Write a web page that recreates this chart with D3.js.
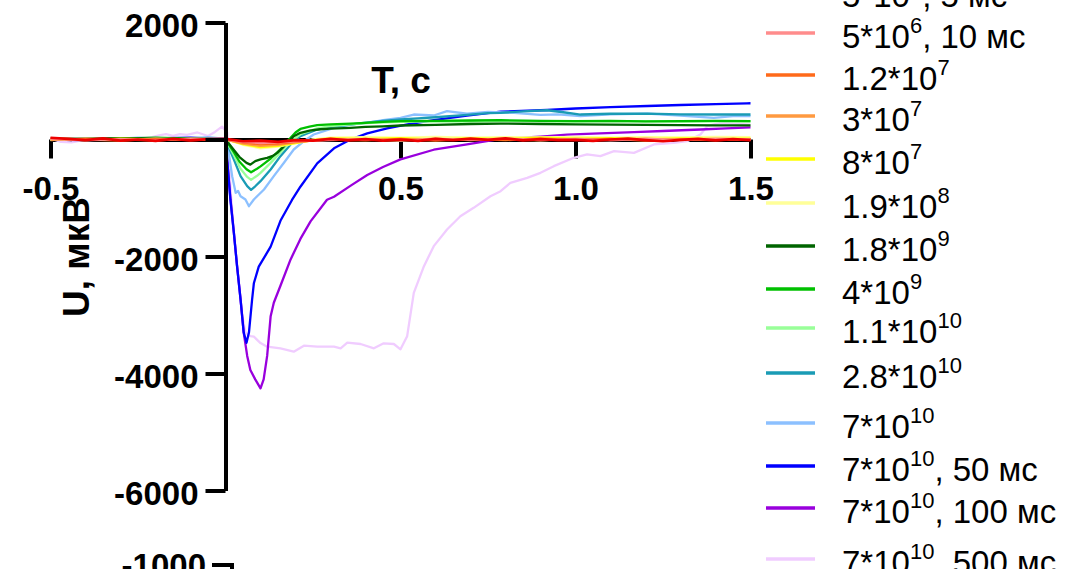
<!DOCTYPE html>
<html>
<head>
<meta charset="utf-8">
<script src="https://cdn.jsdelivr.net/npm/d3@7"></script>
<style>
  body { margin: 0; background: #ffffff; }
  svg { display: block; }
  text { font-family: "Liberation Sans", Arial, sans-serif; }
</style>
</head>
<body>
<svg id="chart" width="1083" height="569"></svg>
<script>
// ---- Data: time T (s) and signal U (µV) per stimulus series ----
const s5e6_5ms = [[-0.5,30],[-0.45,10],[-0.4,-10],[-0.35,20],[-0.3,-20],[-0.25,0],[-0.2,-25],[-0.15,10],[-0.1,-15],[-0.05,5],[0,10],[0.05,-30],[0.1,-20],[0.15,-40],[0.2,-10],[0.25,-20],[0.3,10],[0.35,-15],[0.4,5],[0.45,-20],[0.5,0],[0.55,-25],[0.6,10],[0.65,-10],[0.7,15],[0.75,-5],[0.8,20],[0.85,-15],[0.9,5],[0.95,-10],[1.0,-5],[1.05,-25],[1.1,0],[1.15,15],[1.2,-10],[1.25,-30],[1.3,-5],[1.35,10],[1.4,-15],[1.45,5],[1.5,-10]];
const s5e6_10ms = [[-0.5,10],[-0.4,-15],[-0.3,5],[-0.2,-10],[-0.1,15],[0,0],[0.05,-40],[0.1,-60],[0.15,-50],[0.2,-30],[0.3,-10],[0.4,5],[0.5,-15],[0.6,10],[0.7,-5],[0.8,15],[0.9,-10],[1.0,5],[1.1,-15],[1.2,10],[1.3,-5],[1.4,15],[1.5,0]];
const s1_2e7 = [[-0.5,20],[-0.4,0],[-0.3,-20],[-0.2,10],[-0.1,-10],[0,5],[0.05,-50],[0.1,-80],[0.15,-70],[0.2,-40],[0.25,-20],[0.3,0],[0.4,-15],[0.5,10],[0.6,-20],[0.7,5],[0.8,-10],[0.9,15],[1.0,-5],[1.1,10],[1.2,-20],[1.3,0],[1.4,-10],[1.5,5]];
const s3e7 = [[-0.5,-10],[-0.4,15],[-0.3,0],[-0.2,-15],[-0.1,10],[0,0],[0.05,-70],[0.1,-110],[0.15,-90],[0.2,-50],[0.25,-15],[0.3,10],[0.4,0],[0.5,-20],[0.6,15],[0.7,-10],[0.8,5],[0.9,-15],[1.0,10],[1.1,-5],[1.2,15],[1.3,-10],[1.4,5],[1.5,-5]];
const s8e7 = [[-0.5,5],[-0.4,-10],[-0.3,15],[-0.2,0],[-0.1,-5],[0,5],[0.05,-80],[0.1,-130],[0.15,-110],[0.2,-60],[0.25,-10],[0.3,20],[0.4,10],[0.5,25],[0.6,0],[0.7,20],[0.8,10],[0.9,30],[1.0,15],[1.1,25],[1.2,5],[1.3,20],[1.4,10],[1.5,15]];
const s1_9e8 = [[-0.5,0],[-0.4,10],[-0.3,-5],[-0.2,15],[-0.1,0],[0,5],[0.05,-90],[0.1,-150],[0.15,-120],[0.2,-60],[0.25,0],[0.3,30],[0.4,40],[0.5,30],[0.6,45],[0.7,30],[0.8,40],[0.9,35],[1.0,45],[1.1,30],[1.2,40],[1.3,35],[1.4,45],[1.5,40]];
const s1_8e9 = [[-0.5,10],[-0.4,15],[-0.3,25],[-0.2,20],[-0.1,10],[0,5],[0.02,-150],[0.04,-300],[0.06,-400],[0.071,-430],[0.085,-370],[0.1,-340],[0.119,-313],[0.135,-280],[0.148,-228],[0.165,-130],[0.176,-57],[0.195,57],[0.214,114],[0.24,150],[0.27,175],[0.3,185],[0.357,200],[0.4,215],[0.45,225],[0.5,239],[0.6,250],[0.7,265],[0.786,273],[0.9,265],[1.0,260],[1.1,255],[1.2,250],[1.3,245],[1.4,240],[1.5,240]];
const s4e9 = [[-0.5,5],[-0.4,0],[-0.3,15],[-0.2,30],[-0.1,15],[0,0],[0.02,-180],[0.04,-380],[0.06,-510],[0.073,-560],[0.09,-500],[0.1,-460],[0.115,-390],[0.13,-320],[0.157,-170],[0.171,-60],[0.186,30],[0.2,120],[0.214,180],[0.24,220],[0.262,245],[0.3,260],[0.357,273],[0.4,285],[0.45,300],[0.5,313],[0.6,318],[0.7,325],[0.786,330],[0.9,320],[1.0,315],[1.1,320],[1.2,310],[1.3,315],[1.4,318],[1.5,313]];
const s1_1e10 = [[-0.5,-5],[-0.4,10],[-0.3,0],[-0.2,20],[-0.1,5],[0,0],[0.024,-270],[0.043,-500],[0.062,-640],[0.073,-690],[0.09,-620],[0.1,-570],[0.129,-400],[0.157,-220],[0.186,-40],[0.214,90],[0.262,190],[0.3,230],[0.357,260],[0.4,280],[0.5,300],[0.6,310],[0.7,305],[0.8,315],[0.9,310],[1.0,305],[1.1,315],[1.2,310],[1.3,305],[1.4,310],[1.5,310]];
const s2_8e10 = [[-0.5,0],[-0.4,-10],[-0.3,10],[-0.2,0],[-0.1,15],[0,0],[0.024,-342],[0.043,-627],[0.062,-798],[0.073,-860],[0.085,-800],[0.1,-712],[0.129,-513],[0.157,-285],[0.186,-85],[0.214,57],[0.262,171],[0.3,215],[0.357,256],[0.4,290],[0.45,320],[0.5,342],[0.55,360],[0.6,380],[0.69,420],[0.75,450],[0.786,456],[0.85,480],[0.919,500],[0.96,470],[1.014,427],[1.1,440],[1.205,444],[1.3,430],[1.395,427],[1.5,427]];
const s7e10 = [[-0.5,10],[-0.4,-5],[-0.3,15],[-0.25,30],[-0.2,10],[-0.1,20],[-0.05,40],[0,10],[0.005,-57],[0.019,-627],[0.029,-912],[0.036,-880],[0.043,-969],[0.057,-1026],[0.067,-1140],[0.081,-1026],[0.11,-855],[0.138,-627],[0.167,-398],[0.195,-171],[0.224,-28],[0.252,85],[0.31,200],[0.36,260],[0.405,285],[0.45,330],[0.5,370],[0.538,427],[0.595,410],[0.633,484],[0.69,440],[0.75,470],[0.824,456],[0.9,420],[0.95,430],[1.014,399],[1.1,430],[1.205,444],[1.3,410],[1.395,370],[1.45,400],[1.5,399]];
const s7e10_50ms = [[-0.5,0],[-0.4,10],[-0.3,-5],[-0.2,20],[-0.1,30],[-0.05,20],[0,10],[0.014,-1034],[0.024,-1600],[0.033,-2165],[0.043,-2735],[0.052,-3300],[0.06,-3475],[0.067,-3300],[0.076,-2735],[0.081,-2458],[0.095,-2174],[0.129,-1832],[0.157,-1390],[0.19,-1034],[0.214,-807],[0.262,-407],[0.31,-150],[0.357,0],[0.405,106],[0.462,191],[0.52,260],[0.595,333],[0.69,410],[0.786,475],[0.919,504],[1.0,530],[1.1,555],[1.205,573],[1.3,590],[1.4,605],[1.49,619],[1.5,620]];
const s7e10_100ms = [[-0.5,0],[-0.4,-10],[-0.3,5],[-0.2,-5],[-0.1,10],[0,0],[0.014,-1000],[0.024,-1600],[0.033,-2160],[0.043,-2730],[0.052,-3300],[0.062,-3700],[0.071,-3940],[0.085,-4100],[0.1,-4254],[0.109,-4100],[0.119,-3700],[0.129,-3020],[0.138,-2790],[0.157,-2500],[0.186,-2050],[0.214,-1700],[0.243,-1400],[0.29,-1030],[0.31,-978],[0.36,-780],[0.405,-607],[0.45,-470],[0.5,-340],[0.595,-175],[0.69,-85],[0.786,10],[0.9,50],[0.976,85],[1.05,100],[1.167,125],[1.25,145],[1.357,171],[1.43,190],[1.5,208]];
const s7e10_500ms = [[-0.5,20],[-0.47,-40],[-0.44,-50],[-0.4,0],[-0.35,10],[-0.3,-10],[-0.25,20],[-0.21,40],[-0.19,70],[-0.17,90],[-0.15,60],[-0.13,90],[-0.11,80],[-0.08,120],[-0.05,60],[-0.03,130],[-0.01,220],[0.005,120],[0.015,-900],[0.024,-1600],[0.038,-2450],[0.048,-3020],[0.057,-3300],[0.071,-3360],[0.081,-3370],[0.1,-3480],[0.119,-3541],[0.157,-3570],[0.195,-3627],[0.224,-3524],[0.262,-3541],[0.31,-3541],[0.329,-3570],[0.348,-3473],[0.386,-3496],[0.424,-3570],[0.452,-3484],[0.481,-3496],[0.5,-3587],[0.519,-3362],[0.538,-2621],[0.567,-2165],[0.595,-1823],[0.633,-1538],[0.671,-1311],[0.709,-1168],[0.757,-969],[0.786,-884],[0.814,-740],[0.862,-655],[0.9,-570],[0.938,-456],[0.995,-313],[1.033,-256],[1.071,-285],[1.11,-200],[1.167,-228],[1.224,-85],[1.281,-57],[1.319,-28],[1.357,85],[1.376,227],[1.414,285],[1.45,270],[1.5,256]];

const seriesData = [s5e6_5ms, s5e6_10ms, s1_2e7, s3e7, s8e7, s1_9e8, s1_8e9, s4e9,
                    s1_1e10, s2_8e10, s7e10, s7e10_50ms, s7e10_100ms, s7e10_500ms];

// Legend labels: mantissa, exponent, suffix
const labelBase = ["5*10", "5*10", "1.2*10", "3*10", "8*10", "1.9*10", "1.8*10", "4*10",
                   "1.1*10", "2.8*10", "7*10", "7*10", "7*10", "7*10"];
const labelExp = ["6", "6", "7", "7", "7", "8", "9", "9", "10", "10", "10", "10", "10", "10"];
const labelSuffix = [", 5 мс", ", 10 мс", "", "", "", "", "", "", "", "", "", ", 50 мс", ", 100 мс", ", 500 мс"];

const xTicks = [-0.5, 0.5, 1.0, 1.5];
const xTickLabels = ["-0.5", "0.5", "1.0", "1.5"];
const yTicks = [2000, 0, -2000, -4000, -6000];
const yTickLabels = ["2000", "", "-2000", "-4000", "-6000"];
const lowerSegmentLabel = "-1000";

// ---- Styles / layout ----
const seriesColors = ["#ee0000", "#ff8c8c", "#ff6a1a", "#ff9a40", "#ffff00", "#ffff99",
                      "#006400", "#00c000", "#99ff99", "#1a9bb5", "#8cc0ff", "#0000ff",
                      "#9900dd", "#f0ccff"];
const legendRowY = [-8, 33, 75, 116, 159, 203, 246, 289, 328, 373, 423, 466, 508, 559];

const svg = d3.select("#chart");

const x = d3.scaleLinear().domain([-0.5, 1.5]).range([50.5, 750.5]);
const y = d3.scaleLinear().domain([-6000, 2000]).range([490.5, 22.5]);

const tickFont = "33px";

// X axis, crossing at U = 0
const xAxis = svg.append("g")
  .attr("transform", `translate(0,${y(0)})`)
  .call(d3.axisBottom(x).tickValues(xTicks).tickSize(19).tickSizeOuter(0).tickPadding(18)
        .tickFormat((d, i) => xTickLabels[i]));
xAxis.select(".domain").attr("stroke", "#000").attr("stroke-width", 4);
xAxis.selectAll(".tick line").attr("stroke", "#000").attr("stroke-width", 4);
xAxis.selectAll(".tick text").attr("font-size", tickFont).attr("font-weight", "bold")
  .attr("font-family", "'Liberation Sans', Arial, sans-serif").attr("fill", "#000");

// Data lines (last series drawn first so the first lies on top)
const line = d3.line().x(d => x(d[0])).y(d => y(d[1]));
const order = d3.range(seriesData.length).reverse();
svg.append("g").selectAll("path")
  .data(order)
  .join("path")
  .attr("d", i => line(seriesData[i]))
  .attr("fill", "none")
  .attr("stroke", i => seriesColors[i])
  .attr("stroke-width", i => i === 0 ? 2.7 : 2.3)
  .attr("stroke-linejoin", "round");

// Y axis at T = 0
const yAxis = svg.append("g")
  .attr("transform", `translate(${x(0)},0)`)
  .call(d3.axisLeft(y).tickValues(yTicks).tickSize(20).tickSizeOuter(0).tickPadding(7)
        .tickFormat((d, i) => yTickLabels[i]));
yAxis.select(".domain").attr("stroke", "#000").attr("stroke-width", 4);
yAxis.selectAll(".tick line").attr("stroke", "#000").attr("stroke-width", 4);
yAxis.selectAll(".tick text").attr("font-size", tickFont).attr("font-weight", "bold")
  .attr("dy", "0.42em")
  .attr("font-family", "'Liberation Sans', Arial, sans-serif").attr("fill", "#000");

// Lower segment of the broken Y axis
svg.append("path")
  .attr("d", "M212,565H232V600")
  .attr("fill", "none").attr("stroke", "#000").attr("stroke-width", 4);
svg.append("text")
  .attr("x", 206).attr("y", 577)
  .attr("text-anchor", "end")
  .attr("font-size", tickFont).attr("font-weight", "bold")
  .text(lowerSegmentLabel);

// Axis titles
svg.append("text")
  .attr("x", 401).attr("y", 93)
  .attr("text-anchor", "middle")
  .attr("font-size", "37px").attr("font-weight", "bold")
  .text("T, с");
svg.append("text")
  .attr("transform", "translate(89,257) rotate(-90)")
  .attr("text-anchor", "middle")
  .attr("font-size", "37px").attr("font-weight", "bold")
  .text("U, мкВ");

// Legend
const legend = svg.append("g");
seriesData.forEach((_, i) => {
  const ly = legendRowY[i];
  legend.append("line")
    .attr("x1", 766).attr("x2", 815).attr("y1", ly).attr("y2", ly)
    .attr("stroke", seriesColors[i]).attr("stroke-width", 3.5);
  const t = legend.append("text")
    .attr("x", 842).attr("y", ly + 15)
    .attr("font-size", "33px").attr("fill", "#000");
  t.append("tspan").text(labelBase[i]);
  t.append("tspan").attr("font-size", "22px").attr("dy", -15).text(labelExp[i]);
  if (labelSuffix[i]) t.append("tspan").attr("dy", 15).text(labelSuffix[i]);
});
</script>
</body>
</html>
